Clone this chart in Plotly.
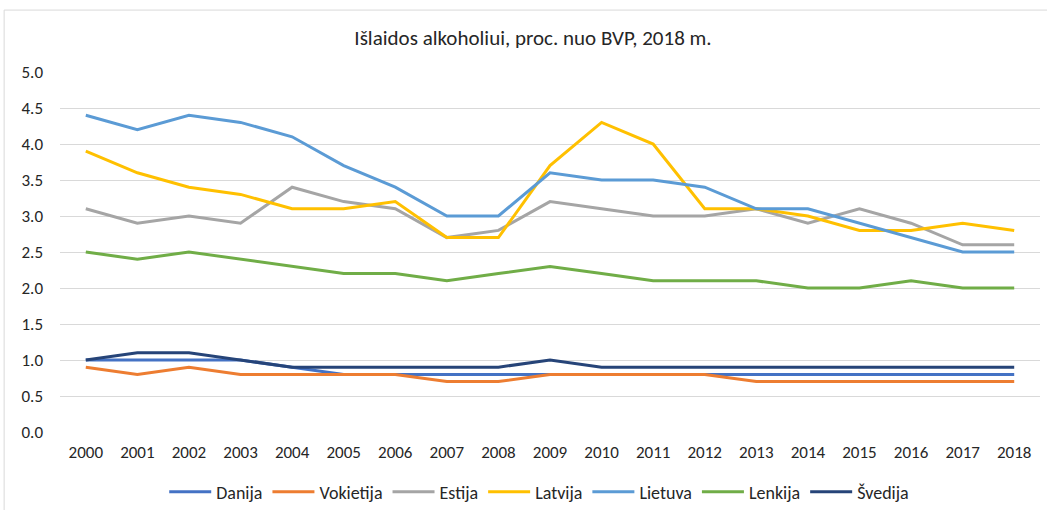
import plotly.graph_objects as go

years = [str(y) for y in range(2000, 2019)]

danija = [1.0, 1.0, 1.0, 1.0, 0.9, 0.8, 0.8, 0.8, 0.8, 0.8, 0.8, 0.8, 0.8, 0.8, 0.8, 0.8, 0.8, 0.8, 0.8]
vokietija = [0.9, 0.8, 0.9, 0.8, 0.8, 0.8, 0.8, 0.7, 0.7, 0.8, 0.8, 0.8, 0.8, 0.7, 0.7, 0.7, 0.7, 0.7, 0.7]
estija = [3.1, 2.9, 3.0, 2.9, 3.4, 3.2, 3.1, 2.7, 2.8, 3.2, 3.1, 3.0, 3.0, 3.1, 2.9, 3.1, 2.9, 2.6, 2.6]
latvija = [3.9, 3.6, 3.4, 3.3, 3.1, 3.1, 3.2, 2.7, 2.7, 3.7, 4.3, 4.0, 3.1, 3.1, 3.0, 2.8, 2.8, 2.9, 2.8]
lietuva = [4.4, 4.2, 4.4, 4.3, 4.1, 3.7, 3.4, 3.0, 3.0, 3.6, 3.5, 3.5, 3.4, 3.1, 3.1, 2.9, 2.7, 2.5, 2.5]
lenkija = [2.5, 2.4, 2.5, 2.4, 2.3, 2.2, 2.2, 2.1, 2.2, 2.3, 2.2, 2.1, 2.1, 2.1, 2.0, 2.0, 2.1, 2.0, 2.0]
svedija = [1.0, 1.1, 1.1, 1.0, 0.9, 0.9, 0.9, 0.9, 0.9, 1.0, 0.9, 0.9, 0.9, 0.9, 0.9, 0.9, 0.9, 0.9, 0.9]

series = [
    ("Danija", danija, "#4472C4"),
    ("Vokietija", vokietija, "#ED7D31"),
    ("Estija", estija, "#A5A5A5"),
    ("Latvija", latvija, "#FFC000"),
    ("Lietuva", lietuva, "#5B9BD5"),
    ("Lenkija", lenkija, "#70AD47"),
    ("Švedija", svedija, "#264478"),
]

FONT = "Carlito, Calibri, 'Open Sans', sans-serif"
DARK = "#262626"

fig = go.Figure()
for name, vals, color in series:
    fig.add_trace(go.Scatter(
        x=years, y=vals, name=name, mode="lines",
        line=dict(color=color, width=3),
    ))

fig.update_layout(
    width=1047, height=510,
    margin=dict(l=60, r=7, t=72, b=78, autoexpand=False),
    paper_bgcolor="white",
    plot_bgcolor="white",
    font=dict(family=FONT, size=17, color=DARK),
    title=dict(
        text="Išlaidos alkoholiui, proc. nuo BVP, 2018 m.",
        x=533 / 1047, xanchor="center", y=1 - 38 / 510, yanchor="middle",
        font=dict(size=21, color=DARK),
    ),
    xaxis=dict(
        type="category", range=[-0.5, 18.5],
        showgrid=False, showline=False, ticks="",
        tickfont=dict(size=17, color=DARK),
        ticklabelstandoff=8,
    ),
    yaxis=dict(
        range=[0, 5.0], dtick=0.5, tickformat=".1f",
        showgrid=True, gridcolor="#D9D9D9", gridwidth=1,
        zeroline=False, showline=False, ticks="",
        tickfont=dict(size=17, color=DARK),
        ticklabelstandoff=16,
    ),
    legend=dict(
        orientation="h", x=0.489, xanchor="center",
        yref="container", y=1 - 492 / 510, yanchor="middle",
        font=dict(size=18, color=DARK),
        itemwidth=42, tracegroupgap=0,
    ),
    shapes=[dict(
        type="rect", xref="paper", yref="paper",
        x0=-0.057, x1=1.2, y0=-0.5, y1=1.172,
        line=dict(color="#D9D9D9", width=1), fillcolor="rgba(0,0,0,0)",
        layer="below",
    )],
)

fig.write_html("out.html", config={"displayModeBar": False},
               post_script="document.body.style.margin='0';")
